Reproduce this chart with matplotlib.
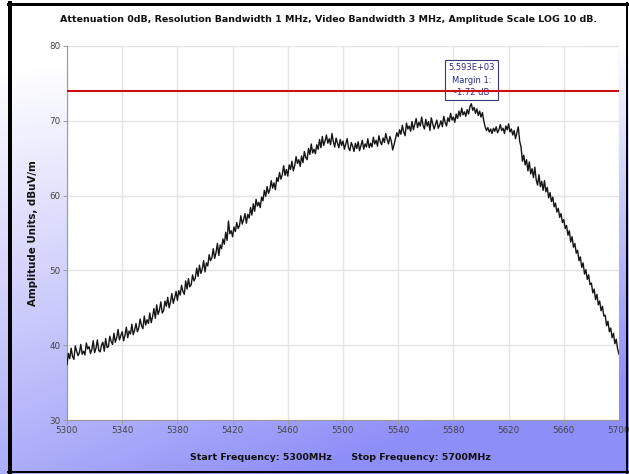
import numpy as np
import matplotlib
matplotlib.use("Agg")
import matplotlib.pyplot as plt
from matplotlib.lines import Line2D

# ---- data ----
freq_start = 5300
freq_step = 1
amplitude = [
    37.4, 38.9, 38.2, 39.6, 38.5, 38.1, 39.9, 39.2, 38.6, 39.0,
    40.1, 38.8, 39.2, 38.7, 40.3, 39.5, 39.8, 38.9, 39.4, 40.6,
    39.0, 39.6, 40.7, 39.3, 39.1, 40.0, 40.4, 39.2, 40.9, 39.7,
    39.8, 41.2, 40.5, 40.1, 41.6, 40.4, 41.0, 42.1, 40.7, 41.3,
    41.8, 40.6, 41.3, 42.4, 41.0, 41.9, 41.5, 42.8, 41.4, 42.0,
    42.9, 41.8, 42.3, 43.5, 42.6, 42.2, 43.9, 42.7, 43.4, 42.9,
    44.3, 43.0, 43.8, 44.9, 43.6, 45.4, 44.1, 44.7, 45.8, 44.3,
    44.6, 45.9, 45.2, 46.4, 45.0, 45.8, 46.9, 45.6, 46.3, 47.2,
    46.0, 47.3, 46.7, 48.0, 47.2, 46.8, 48.6, 47.5, 48.9, 47.8,
    48.1, 49.4, 48.6, 49.0, 50.3, 49.2, 50.7, 49.6, 50.2, 51.3,
    49.8, 51.0, 50.6, 52.1, 51.3, 51.7, 52.9, 51.6, 52.4, 53.6,
    52.0, 53.4, 52.9, 54.2, 53.5, 55.1, 54.0, 56.6, 54.9, 55.3,
    54.5, 55.8, 55.2, 56.4, 55.6, 56.0, 57.3, 56.2, 56.8, 57.6,
    56.3, 57.5, 57.0, 58.4, 57.4, 58.9, 57.9, 59.5, 58.6, 59.1,
    58.4, 59.8, 59.3, 60.7, 59.9, 61.2, 60.3, 60.8, 62.0, 61.0,
    61.7, 60.8, 62.4, 61.9, 63.1, 62.2, 62.8, 64.0, 62.7, 63.5,
    62.6, 64.1, 63.5, 64.6, 63.3, 64.0, 65.2, 64.3, 64.8, 63.9,
    65.3, 64.4, 65.9, 65.1, 64.8, 66.3, 65.5, 66.9, 65.7, 66.2,
    65.6, 66.8, 66.2, 67.5, 66.4, 67.9, 66.7, 67.3, 68.1, 67.0,
    67.6, 66.8, 68.3, 67.2, 66.5, 67.7, 67.0, 66.4, 67.5, 66.7,
    67.3, 66.2, 66.9, 67.6, 66.4, 66.0, 67.1, 66.6, 65.9, 67.0,
    66.3, 67.2, 66.0, 66.7, 67.4, 66.2, 66.9, 66.5, 67.6, 66.4,
    67.0, 66.5, 67.8, 66.9, 67.4, 66.6, 68.0, 67.2, 66.8, 67.7,
    67.1, 68.3, 67.5, 66.9, 67.9, 67.3, 66.1, 66.8, 67.6, 68.4,
    67.9, 68.8, 68.2, 69.4, 68.5, 68.0, 69.7, 68.9, 69.3, 68.6,
    69.9, 68.8, 69.5, 70.3, 69.1, 69.8, 69.3, 70.5, 69.4, 68.9,
    70.2, 69.3, 69.9, 68.7, 70.4, 69.6, 68.9, 69.5, 70.1, 69.0,
    69.4, 70.0, 69.2, 70.6, 69.8, 69.3, 70.4, 69.9, 71.0, 70.1,
    70.5, 69.8, 70.9, 70.3, 71.3, 70.6, 71.7, 70.8, 71.2, 70.6,
    71.5, 70.9, 71.9, 72.28, 71.4, 71.8, 71.0, 71.6, 70.7, 71.3,
    70.5, 71.1, 70.0, 69.2, 68.7, 69.1, 68.5, 68.9, 68.3, 69.0,
    68.6, 69.2, 68.4, 68.8, 69.5, 68.7, 69.0, 68.3, 69.3, 68.8,
    69.6, 68.5, 68.9, 68.1, 68.7, 67.6, 68.4, 69.2, 67.3, 66.5,
    64.6, 65.4, 64.1, 64.8, 63.3, 64.5, 62.9, 63.6, 62.4, 63.8,
    62.1, 61.4, 62.8, 61.2, 61.9, 60.7, 62.0, 60.5, 61.1, 59.7,
    60.4, 59.2, 59.8, 58.5, 59.0, 57.8, 58.3, 57.1, 57.6, 56.4,
    56.8, 55.6, 56.0, 54.7, 55.3, 53.8, 54.5, 53.1, 53.6, 52.3,
    52.7, 51.3, 51.8, 50.4, 51.0, 49.5, 50.1, 48.8, 49.4, 48.1,
    48.3, 47.0, 47.5, 46.1, 46.8, 45.4, 45.9, 44.6, 45.2, 43.9,
    44.0, 42.6, 43.2, 41.8, 42.3, 41.0, 41.6, 40.2, 40.8, 39.5,
    38.8,
]
limit_value = 74.0
marker_freq_label = "5.593E+03"
marker_margin_label = "Margin 1:"
marker_margin_value = "-1.72 dB"
x_ticks = [5300, 5340, 5380, 5420, 5460, 5500, 5540, 5580, 5620, 5660, 5700]
y_ticks = [30, 40, 50, 60, 70, 80]
title = "Attenuation 0dB, Resolution Bandwidth 1 MHz, Video Bandwidth 3 MHz, Amplitude Scale LOG 10 dB."
y_label = "Amplitude Units, dBuV/m"
x_label = "Start Frequency: 5300MHz      Stop Frequency: 5700MHz"

freqs = [freq_start + i * freq_step for i in range(len(amplitude))]

# ---- figure ----
W, H = 629, 474
fig = plt.figure(figsize=(W / 100, H / 100), dpi=100)

# background gradient
bg = fig.add_axes([0, 0, 1, 1], zorder=-10)
yy, xx = np.mgrid[0:1:200j, 0:1:200j]
t = np.clip(yy * (0.85 + 0.55 * xx) - 0.12, 0, 1)
c0 = np.array([1.0, 1.0, 1.0])
c1 = np.array([142, 142, 248]) / 255
img = c0[None, None, :] * (1 - t[..., None]) + c1[None, None, :] * t[..., None]
bg.imshow(img, extent=[0, 1, 0, 1], aspect="auto", origin="upper")
bg.set_axis_off()

# black frame
lw_px = 72 / 100
fig.add_artist(Line2D([10 / W, 10 / W], [0, 1 - 3 / H], transform=fig.transFigure, color="black", lw=4 * lw_px))
fig.add_artist(Line2D([8 / W, 1], [1 - 4 / H, 1 - 4 / H], transform=fig.transFigure, color="black", lw=3 * lw_px))
fig.add_artist(Line2D([1 - 2 / W, 1 - 2 / W], [0, 1 - 3 / H], transform=fig.transFigure, color="black", lw=2 * lw_px))
fig.add_artist(Line2D([8 / W, 1], [2 / H, 2 / H], transform=fig.transFigure, color="black", lw=2 * lw_px))

left, right, top, bottom = 67, 619, 46, 420
ax = fig.add_axes([left / W, 1 - bottom / H, (right - left) / W, (bottom - top) / H])
ax.set_facecolor("white")
ax.plot(freqs, amplitude, color="#151515", lw=1.0, zorder=3)
ax.axhline(limit_value, color="#d01010", lw=1.5, zorder=5)

ax.set_xlim(5300, 5700)
ax.set_ylim(30, 80)
ax.set_xticks(x_ticks)
ax.set_yticks(y_ticks)
ax.grid(True, color="#e4e4e4", lw=1.0, zorder=0)
ax.set_axisbelow(True)
for s in ["top", "right"]:
    ax.spines[s].set_visible(False)
for s in ["left", "bottom"]:
    ax.spines[s].set_color("#9a9a9a")
    ax.spines[s].set_linewidth(0.8)
ax.tick_params(axis="both", labelsize=6.3, colors="#9a9a9a", labelcolor="#444444", length=3, width=0.7, pad=1.5)

# peak marker annotation
peak_i = int(np.argmax(amplitude))
peak_f = freqs[peak_i]
ax.text(peak_f, 75.45, marker_freq_label + "\n" + marker_margin_label + "\n" + marker_margin_value,
        ha="center", va="center", fontsize=6, color="#2a2a8a", linespacing=1.45, zorder=4,
        bbox=dict(boxstyle="square,pad=0.35", fc="white", ec="#3a3a7a", lw=0.8))

fig.text(329 / W, 1 - 19 / H, title, ha="center", va="center", fontsize=6.8, fontweight="bold", color="#111111")
fig.text(33 / W, 1 - 233 / H, y_label, ha="center", va="center", rotation=90, fontsize=7.4, fontweight="bold", color="#111111")
fig.text(340 / W, 1 - 458 / H, x_label, ha="center", va="center", fontsize=6.8, fontweight="bold", color="#111111")

fig.savefig("out.png", dpi=100)
